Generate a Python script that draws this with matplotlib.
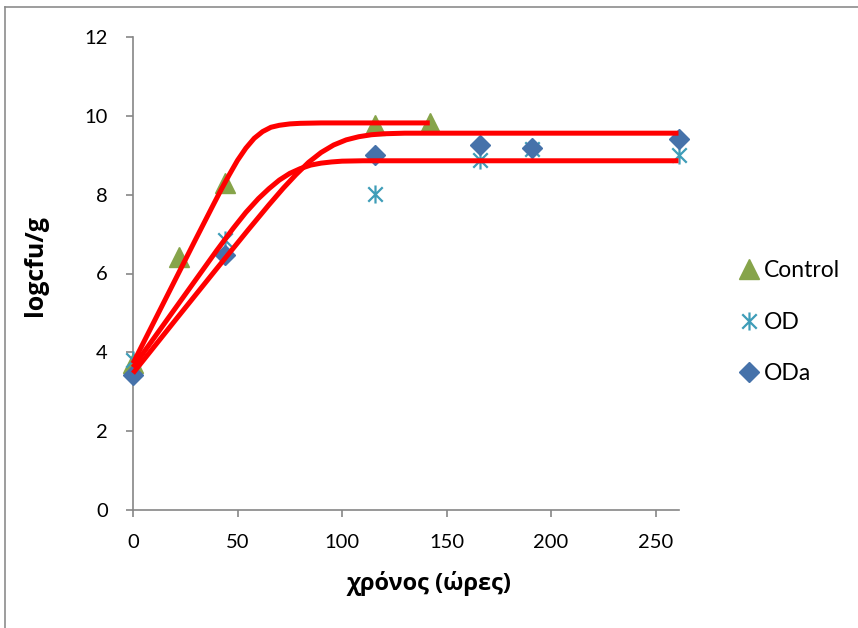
import matplotlib
matplotlib.use("Agg")
import matplotlib.pyplot as plt
from matplotlib.path import Path
from matplotlib.lines import Line2D

# ---- data ----
t_control = [0, 22, 44, 116, 142]
y_control = [3.72, 6.43, 8.29, 9.78, 9.83]

t_od = [0, 44, 116, 166, 191, 261]
y_od = [3.80, 6.85, 8.02, 8.88, 9.17, 9.00]

t_oda = [0, 44, 116, 166, 191, 261]
y_oda = [3.42, 6.47, 9.00, 9.26, 9.19, 9.40]

# fitted curves
fit_control_t = [0, 10, 20, 30, 38, 42, 46, 50, 54, 58, 62, 66, 70, 75, 80, 90, 142]
fit_control_y = [3.72, 4.77, 5.82, 6.87, 7.70, 8.11, 8.50, 8.87, 9.18, 9.43, 9.60, 9.71,
                 9.76, 9.795, 9.81, 9.82, 9.82]

fit_od_t = [0, 20, 40, 48, 54, 60, 65, 70, 75, 80, 85, 90, 95, 100, 110, 261]
fit_od_y = [3.62, 5.10, 6.58, 7.15, 7.55, 7.90, 8.15, 8.37, 8.54, 8.66, 8.75, 8.80,
            8.83, 8.85, 8.86, 8.86]

fit_oda_t = [0, 20, 40, 55, 65, 72, 78, 84, 90, 96, 102, 108, 114, 120, 130, 261]
fit_oda_y = [3.47, 4.80, 6.12, 7.10, 7.74, 8.17, 8.51, 8.82, 9.07, 9.26, 9.39, 9.47,
             9.52, 9.545, 9.56, 9.56]

labels = ["Control", "OD", "ODa"]
x_ticks = [0, 50, 100, 150, 200, 250]
y_ticks = [0, 2, 4, 6, 8, 10, 12]

plt.rcParams['font.family'] = ['Lato', 'Open Sans', 'DejaVu Sans']

fig = plt.figure(figsize=(8.58, 6.28), dpi=100)
ax = fig.add_axes([133/858, 1-510/628, (678.5-133)/858, (510-37)/628])

c_green = '#86A44A'
c_teal = '#3E9DB8'
c_blue = '#4672AA'

# asterisk marker: vertical bar + X
star = Path([(0, -1), (0, 1), (-0.8, -0.8), (0.8, 0.8), (-0.8, 0.8), (0.8, -0.8)],
            [Path.MOVETO, Path.LINETO, Path.MOVETO, Path.LINETO, Path.MOVETO, Path.LINETO])

ax.plot(t_control, y_control, linestyle='none', marker='^', markersize=14,
        color=c_green, label=labels[0], clip_on=False, zorder=3)
ax.plot(t_od, y_od, linestyle='none', marker=star, markersize=13, markerfacecolor='none',
        markeredgecolor=c_teal, markeredgewidth=1.6, label=labels[1], clip_on=False, zorder=3)
ax.plot(t_oda, y_oda, linestyle='none', marker='D', markersize=10.5,
        color=c_blue, label=labels[2], clip_on=False, zorder=4)

for tt, yy in [(fit_control_t, fit_control_y), (fit_od_t, fit_od_y), (fit_oda_t, fit_oda_y)]:
    ax.plot(tt, yy, color='#FF0000', linewidth=3.6, solid_capstyle='butt',
            solid_joinstyle='round', clip_on=False, zorder=5)

ax.set_xlim(0, 261)
ax.set_ylim(0, 12)
ax.set_xticks(x_ticks)
ax.set_yticks(y_ticks)

for s in ['top', 'right']:
    ax.spines[s].set_visible(False)
for s in ['left', 'bottom']:
    ax.spines[s].set_color('#868686')
    ax.spines[s].set_linewidth(1.2)
ax.tick_params(axis='both', direction='out', length=5, width=1.2, color='#868686',
               labelsize=14.5, labelcolor='black')
ax.tick_params(axis='y', pad=13)
ax.tick_params(axis='x', pad=12)

ax.set_xlabel('χρόνος (ώρες)', fontsize=17, fontweight='bold', family=['Open Sans', 'DejaVu Sans'])
ax.set_ylabel('logcfu/g', fontsize=18, fontweight='bold', family=['Open Sans', 'DejaVu Sans'])
ax.xaxis.set_label_coords((429 - 133) / 545.5, -(571 - 510) / 473)
ax.yaxis.set_label_coords(-(133 - 48) / 545.5, (510 - 266) / 473)

leg = fig.legend(handles=ax.get_lines()[:3], labels=labels, loc='upper left',
                 bbox_to_anchor=(726/858, 1-251/628), frameon=False, fontsize=16.5,
                 handletextpad=0.05, labelspacing=1.33, handlelength=1.2, borderaxespad=0)

# chart area border (top and left visible in reference)
fig.add_artist(Line2D([4.5/858, 4.5/858], [0, 1-7.3/628], transform=fig.transFigure,
                      color='#8C8C8C', linewidth=1.2))
fig.add_artist(Line2D([4.5/858, 1], [1-7.3/628, 1-7.3/628], transform=fig.transFigure,
                      color='#8C8C8C', linewidth=1.2))

fig.savefig('out.png', dpi=100, facecolor='white')
